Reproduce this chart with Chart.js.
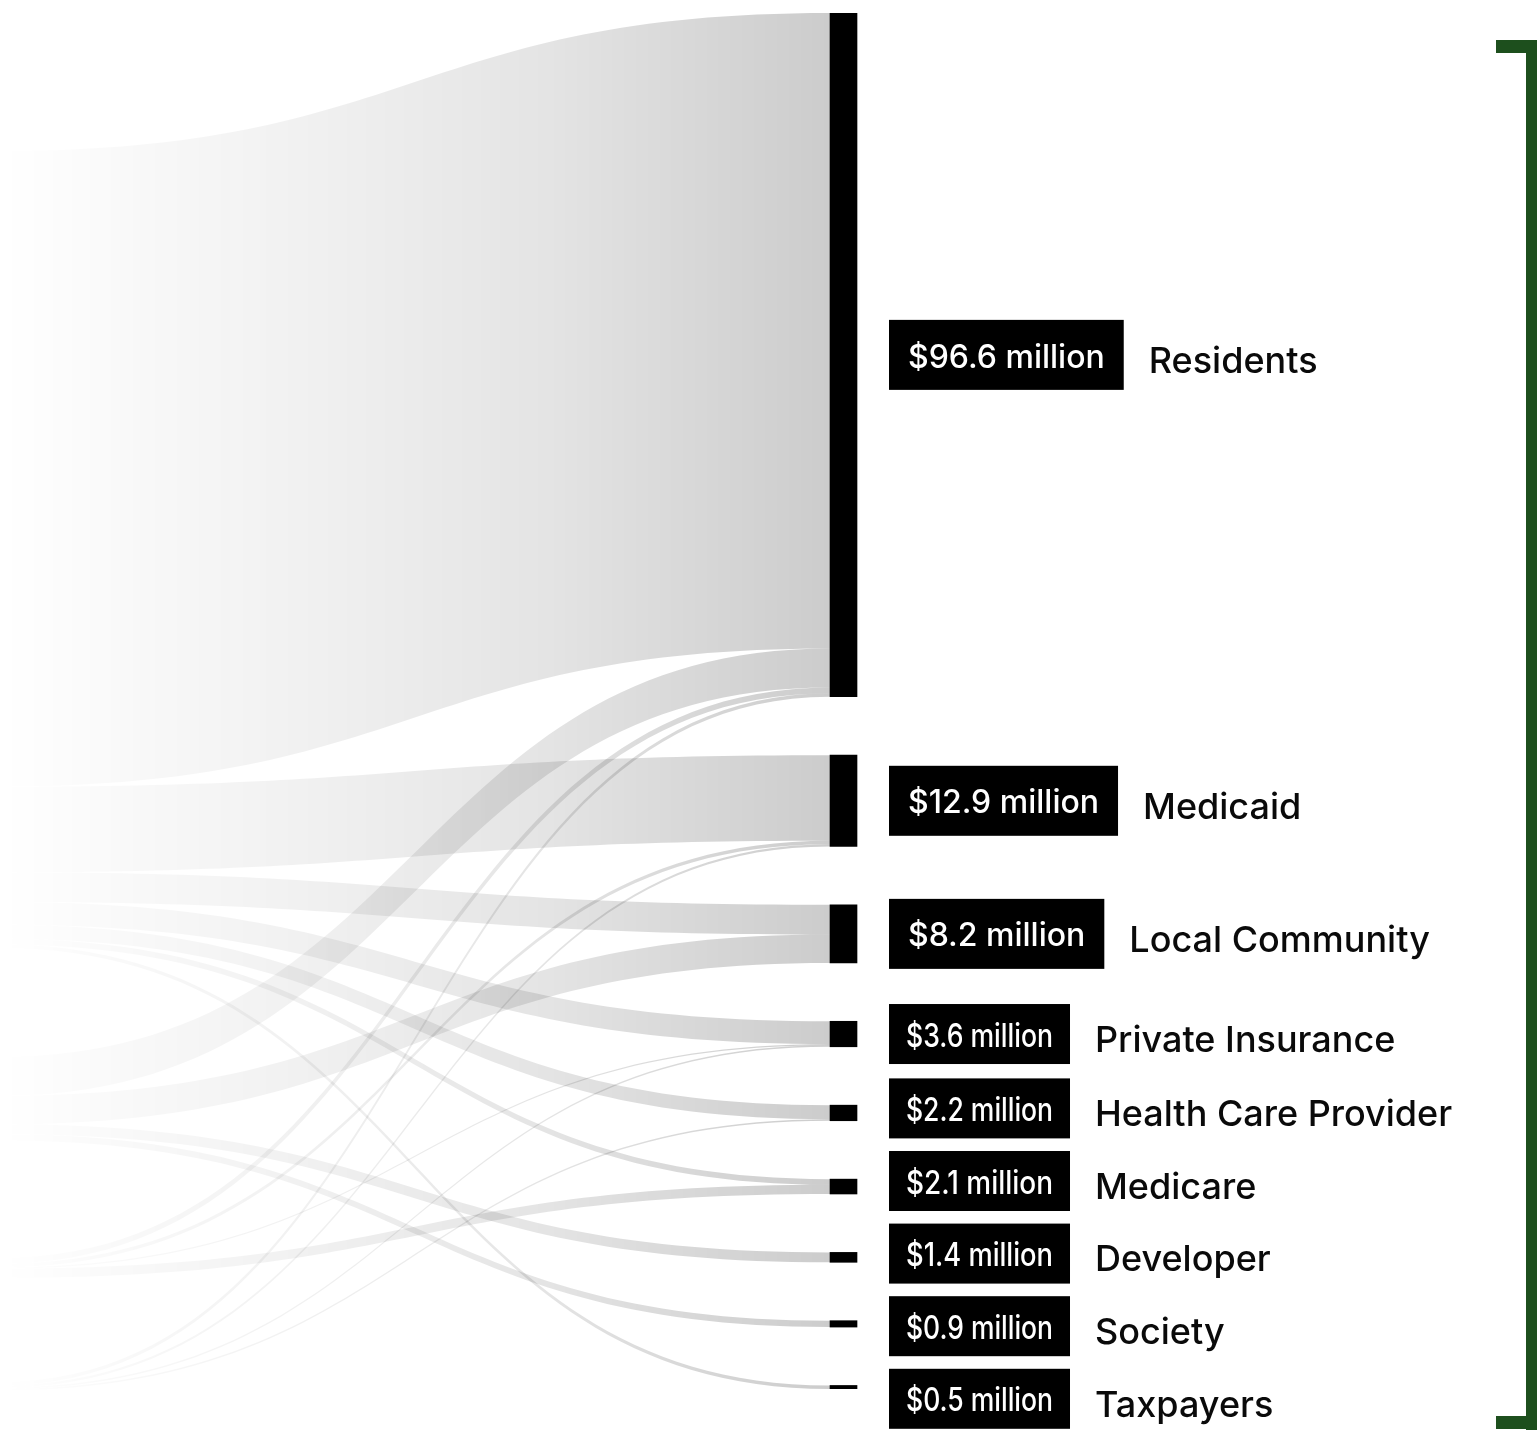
<!DOCTYPE html>
<html>
<head>
<meta charset="utf-8">
<script src="https://cdn.jsdelivr.net/npm/chart.js@4.4.1/dist/chart.umd.min.js"></script>
<style>
  html, body { margin: 0; padding: 0; background: #ffffff; }
  #wrap { width: 1537px; height: 1440px; position: relative; }
  canvas { display: block; }
</style>
</head>
<body>
<div id="wrap"><canvas id="chart" width="1537" height="1440"></canvas></div>
<script>
// ---------------- DATA ----------------
const targets = ['Residents', 'Medicaid', 'Local Community', 'Private Insurance',
  'Health Care Provider', 'Medicare', 'Developer', 'Society', 'Taxpayers'];
const targetValues = [96.6, 12.9, 8.2, 3.6, 2.2, 2.1, 1.4, 0.9, 0.5];
const valueLabels = ['$96.6 million', '$12.9 million', '$8.2 million', '$3.6 million',
  '$2.2 million', '$2.1 million', '$1.4 million', '$0.9 million', '$0.5 million'];

// hidden source groups on the left (not labelled in the picture)
const sources = ['Source A', 'Source B', 'Source C', 'Source D'];

// flows (links): source index -> target index, value in $ million (estimated)
const flowSource = [0, 0, 0, 0, 0, 0, 0,   1, 1, 1, 1,   2, 2, 2, 2,   3, 3, 3, 3];
const flowTarget = [0, 1, 2, 3, 4, 5, 8,   0, 2, 6, 7,   0, 1, 3, 5,   0, 1, 3, 4];
const flowValue  = [89.8, 12.1, 4.2, 3.2, 2.0, 0.8, 0.5,
                    5.5, 4.0, 1.4, 0.9,
                    0.8, 0.5, 0.2, 1.3,
                    0.5, 0.3, 0.2, 0.2];

// ---------------- LAYOUT (not data) ----------------
const NODE_GAP = 8.25;                      // gap between target nodes, in value units
const SOURCE_TOP = [19.5, 147.5, 175.9, 193.4]; // hidden source positions, in value units
const SOURCE_COL = 0;                       // x of hidden sources (0..1)
const NODE_COL = 0.5488;                    // x of target column (0..1)
const LABEL_GAP = 12.6;

const total = targetValues.reduce((a, b) => a + b, 0);
const Y_MAX = total + NODE_GAP * (targets.length - 1);
const targetStart = [];
(function () { let acc = 0; targetValues.forEach(v => { targetStart.push(acc); acc += v + NODE_GAP; }); })();

// ---------------- PLUGINS ----------------
const flowPlugin = {
  id: 'flows',
  beforeDatasetsDraw(chart) {
    const ctx = chart.ctx, xs = chart.scales.x, ys = chart.scales.y;
    const bars = chart.getDatasetMeta(0).data;
    const x1 = bars[0].x - bars[0].width / 2;
    const x0 = xs.getPixelForValue(SOURCE_COL);
    const xm = (x0 + x1) / 2;
    const idx = flowValue.map((_, i) => i);
    const s0 = [], t0 = [];
    const sOff = SOURCE_TOP.slice(), tOff = targetStart.slice();
    [...idx].sort((a, b) => flowSource[a] - flowSource[b] || flowTarget[a] - flowTarget[b])
      .forEach(i => { s0[i] = sOff[flowSource[i]]; sOff[flowSource[i]] += flowValue[i]; });
    [...idx].sort((a, b) => flowTarget[a] - flowTarget[b] || flowSource[a] - flowSource[b])
      .forEach(i => { t0[i] = tOff[flowTarget[i]]; tOff[flowTarget[i]] += flowValue[i]; });

    const grad = ctx.createLinearGradient(x0, 0, x1, 0);
    grad.addColorStop(0, 'rgba(0,0,0,0)');
    grad.addColorStop(0.03, 'rgba(0,0,0,0.002)');
    grad.addColorStop(0.12, 'rgba(0,0,0,0.018)');
    grad.addColorStop(0.36, 'rgba(0,0,0,0.055)');
    grad.addColorStop(0.66, 'rgba(0,0,0,0.105)');
    grad.addColorStop(1, 'rgba(0,0,0,0.2)');

    ctx.save();
    idx.forEach(i => {
      const ya = ys.getPixelForValue(s0[i]);
      const yb = ys.getPixelForValue(s0[i] + flowValue[i]);
      const yc = ys.getPixelForValue(t0[i]);
      const yd = ys.getPixelForValue(t0[i] + flowValue[i]);
      ctx.beginPath();
      ctx.moveTo(x0, ya);
      ctx.bezierCurveTo(xm, ya, xm, yc, x1, yc);
      ctx.lineTo(x1, yd);
      ctx.bezierCurveTo(xm, yd, xm, yb, x0, yb);
      ctx.closePath();
      ctx.fillStyle = grad;
      ctx.fill();
    });
    ctx.restore();
  }
};

const labelPlugin = {
  id: 'nodeLabels',
  afterDatasetsDraw(chart) {
    const ctx = chart.ctx;
    const bars = chart.getDatasetMeta(0).data;
    const items = bars.map((bar, i) => {
      const top = Math.min(bar.y, bar.base), bot = Math.max(bar.y, bar.base);
      const big = (bot - top) >= 40;
      return { i, anchor: (top + bot) / 2, h: big ? 70 : 60, big, right: bar.x + bar.width / 2, cy: (top + bot) / 2 };
    });
    function place(c) {
      const m = c.members;
      let pos = 0; const rel = [];
      m.forEach((it, k) => { if (k > 0) pos += m[k - 1].h / 2 + LABEL_GAP + it.h / 2; rel.push(pos); });
      const meanRel = rel.reduce((a, b) => a + b, 0) / rel.length;
      const meanA = m.reduce((a, it) => a + it.anchor, 0) / m.length;
      m.forEach((it, k) => { it.cy = meanA + rel[k] - meanRel; });
    }
    let clusters = items.map(it => ({ members: [it] }));
    let changed = true;
    while (changed) {
      changed = false;
      for (let k = 0; k < clusters.length - 1; k++) {
        const a = clusters[k], b = clusters[k + 1];
        const al = a.members[a.members.length - 1], bf = b.members[0];
        if (al.cy + al.h / 2 + LABEL_GAP > bf.cy - bf.h / 2 + 0.01) {
          a.members = a.members.concat(b.members);
          clusters.splice(k + 1, 1);
          place(a);
          changed = true;
          break;
        }
      }
    }
    ctx.save();
    items.forEach(it => {
      const bx = it.right + 32;
      ctx.font = '500 32px Inter, "Open Sans", sans-serif';
      const tw = ctx.measureText(valueLabels[it.i]).width;
      const w = it.big ? tw + 38 : 181;
      ctx.fillStyle = '#000';
      ctx.fillRect(bx, it.cy - it.h / 2, w, it.h);
      ctx.fillStyle = '#fff';
      ctx.textAlign = 'center';
      ctx.textBaseline = 'middle';
      ctx.fillText(valueLabels[it.i], bx + w / 2, it.cy + 3, w - 34);
      ctx.font = '500 36px Inter, "Open Sans", sans-serif';
      ctx.fillStyle = '#0a0a0a';
      ctx.textAlign = 'left';
      ctx.fillText(targets[it.i], bx + w + 25, it.cy + 7);
    });
    // green bracket on the right
    ctx.fillStyle = '#1d4f1d';
    ctx.fillRect(1526, 40, 11, 1390);
    ctx.fillRect(1496, 40, 41, 13);
    ctx.fillRect(1496, 1416, 41, 13);
    ctx.restore();
  }
};

function build() {
  new Chart(document.getElementById('chart'), {
    type: 'bar',
    data: {
      datasets: [{
        label: 'Targets',
        data: targets.map((t, i) => ({ x: NODE_COL, y: [targetStart[i], targetStart[i] + targetValues[i]] })),
        backgroundColor: '#000000',
        borderWidth: 0,
        barThickness: 27
      }]
    },
    options: {
      responsive: false,
      animation: false,
      devicePixelRatio: 1,
      layout: { padding: { top: 13, bottom: 51, left: 0, right: 0 } },
      plugins: { legend: { display: false }, tooltip: { enabled: false }, title: { display: false } },
      scales: {
        x: { type: 'linear', min: 0, max: 1, display: false, offset: false },
        y: { type: 'linear', min: 0, max: Y_MAX, reverse: true, display: false }
      }
    },
    plugins: [flowPlugin, labelPlugin]
  });
}
if (document.fonts && document.fonts.load) {
  Promise.all([document.fonts.load('500 32px Inter'), document.fonts.load('500 36px Inter')])
    .then(build, build);
} else { build(); }
</script>
</body>
</html>
